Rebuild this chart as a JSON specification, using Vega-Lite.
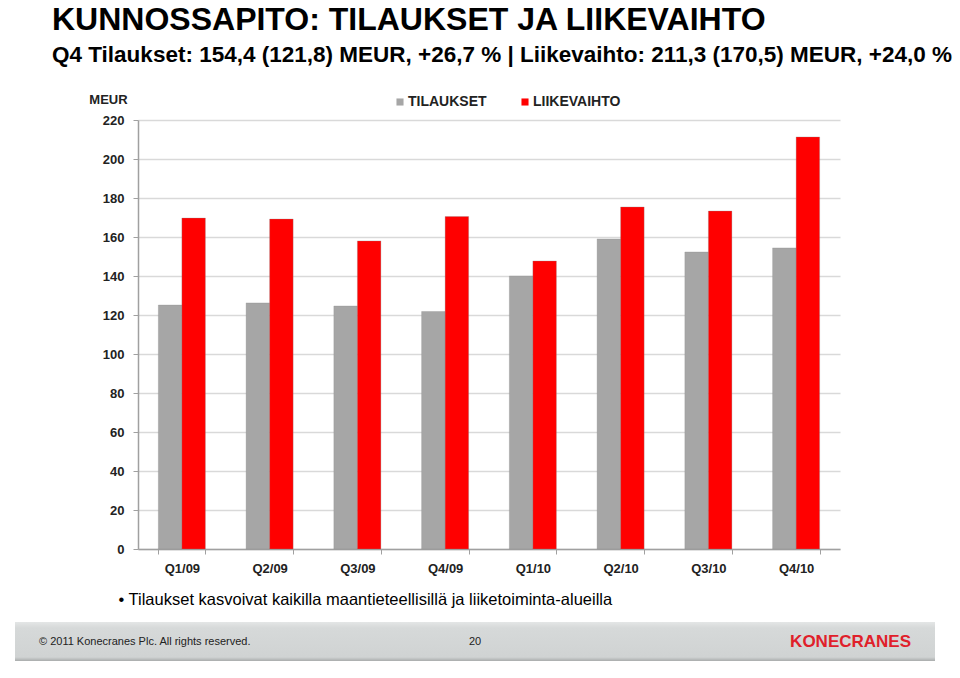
{
  "$schema": "https://vega.github.io/schema/vega-lite/v6.json",
  "padding": {"left": 15, "top": 3, "right": 0, "bottom": 0},
  "background": "white",
  "config": {"view": {"stroke": null}},
  "title": {
    "text": "KUNNOSSAPITO: TILAUKSET JA LIIKEVAIHTO",
    "subtitle": "Q4  Tilaukset: 154,4 (121,8) MEUR, +26,7 % | Liikevaihto: 211,3 (170,5) MEUR, +24,0 %",
    "anchor": "start",
    "frame": "bounds",
    "dx": 37,
    "font": "Liberation Sans",
    "fontSize": 32,
    "fontWeight": "bold",
    "color": "#000000",
    "subtitleFont": "Liberation Sans",
    "subtitleFontSize": 22.5,
    "subtitleFontWeight": "bold",
    "subtitleColor": "#000000",
    "subtitlePadding": 7,
    "offset": 20
  },
  "spacing": 14,
  "vconcat": [
    {
      "spacing": 0,
      "hconcat": [
        {
          "width": 63,
          "height": 10,
          "view": {"fill": "white", "stroke": null},
          "data": {"values": []},
          "mark": "point",
          "encoding": {}
        },
        {
          "width": 702,
          "height": 429,
          "data": {
            "values": [
              {"quarter": "Q1/09", "series": "TILAUKSET", "value": 125.1},
              {"quarter": "Q1/09", "series": "LIIKEVAIHTO", "value": 169.7},
              {"quarter": "Q2/09", "series": "TILAUKSET", "value": 126.2},
              {"quarter": "Q2/09", "series": "LIIKEVAIHTO", "value": 169.2},
              {"quarter": "Q3/09", "series": "TILAUKSET", "value": 124.6},
              {"quarter": "Q3/09", "series": "LIIKEVAIHTO", "value": 158.0},
              {"quarter": "Q4/09", "series": "TILAUKSET", "value": 121.8},
              {"quarter": "Q4/09", "series": "LIIKEVAIHTO", "value": 170.5},
              {"quarter": "Q1/10", "series": "TILAUKSET", "value": 140.0},
              {"quarter": "Q1/10", "series": "LIIKEVAIHTO", "value": 147.7},
              {"quarter": "Q2/10", "series": "TILAUKSET", "value": 159.0},
              {"quarter": "Q2/10", "series": "LIIKEVAIHTO", "value": 175.4},
              {"quarter": "Q3/10", "series": "TILAUKSET", "value": 152.3},
              {"quarter": "Q3/10", "series": "LIIKEVAIHTO", "value": 173.3},
              {"quarter": "Q4/10", "series": "TILAUKSET", "value": 154.4},
              {"quarter": "Q4/10", "series": "LIIKEVAIHTO", "value": 211.3}
            ]
          },
          "mark": {"type": "bar", "stroke": "#8a8a8a", "strokeWidth": 0.5, "strokeOpacity": 0.6},
          "encoding": {
            "x": {
              "field": "quarter",
              "type": "nominal",
              "sort": null,
              "scale": {"paddingInner": 0.464, "paddingOuter": 0.232},
              "axis": {
                "title": "•  Tilaukset kasvoivat kaikilla maantieteellisillä ja liiketoiminta-alueilla",
                "titleFont": "Liberation Sans",
                "titleFontSize": 16.5,
                "titleFontWeight": "normal",
                "titleColor": "#000000",
                "titleAnchor": "start",
                "titleAlign": "left",
                "titleX": -20,
                "titleY": 55,
                "titleBaseline": "alphabetic",
                "labelAngle": 0,
                "labelFont": "Liberation Sans",
                "labelFontSize": 13,
                "labelFontWeight": "bold",
                "labelColor": "#222222",
                "labelPadding": 8,
                "tickBand": "extent",
                "tickSize": 5,
                "tickColor": "#a0a0a0",
                "domainColor": "#a0a0a0",
                "domainWidth": 1.5
              }
            },
            "xOffset": {"field": "series", "type": "nominal", "sort": ["TILAUKSET", "LIIKEVAIHTO"], "scale": {"paddingInner": 0, "paddingOuter": 0}},
            "y": {
              "field": "value",
              "type": "quantitative",
              "scale": {"domain": [0, 220], "nice": false},
              "axis": {
                "values": [0, 20, 40, 60, 80, 100, 120, 140, 160, 180, 200, 220],
                "title": "MEUR",
                "titleAngle": 0,
                "titleAlign": "center",
                "titleX": -30,
                "titleY": -17,
                "titleBaseline": "alphabetic",
                "titleFont": "Liberation Sans",
                "titleFontSize": 13,
                "titleFontWeight": "bold",
                "titleColor": "#222222",
                "labelFont": "Liberation Sans",
                "labelFontSize": 13,
                "labelFontWeight": "bold",
                "labelColor": "#222222",
                "labelPadding": 9,
                "tickSize": 5,
                "tickColor": "#a0a0a0",
                "domainColor": "#a0a0a0",
                "domainWidth": 1.5,
                "gridColor": "#d9d9d9",
                "gridWidth": 1.5,
                "minExtent": 60
              }
            },
            "color": {
              "field": "series",
              "type": "nominal",
              "scale": {"domain": ["TILAUKSET", "LIIKEVAIHTO"], "range": ["#a6a6a6", "#ff0000"]},
              "legend": {
                "title": null,
                "orient": "none",
                "direction": "horizontal",
                "legendX": 370,
                "legendY": -33,
                "symbolType": "square",
                "symbolSize": 50,
                "symbolStrokeWidth": 0,
                "labelFont": "Liberation Sans",
                "labelFontSize": 14,
                "labelFontWeight": "bold",
                "labelColor": "#222222",
                "labelOffset": 1,
                "columnPadding": 31,
                "padding": 8
              }
            }
          }
        }
      ]
    },
    {
      "width": 920,
      "height": 39,
      "data": {
        "values": [
          {"item": "copyright", "label": "© 2011 Konecranes Plc. All rights reserved."},
          {"item": "page", "label": "20"},
          {"item": "logo", "label": "KONECRANES"}
        ]
      },
      "layer": [
        {
          "mark": {
            "type": "rect",
            "color": {
              "gradient": "linear",
              "x1": 0, "y1": 0, "x2": 0, "y2": 1,
              "stops": [
                {"offset": 0, "color": "#e4e6e6"},
                {"offset": 0.15, "color": "#d6d9d9"},
                {"offset": 0.9, "color": "#d0d3d3"},
                {"offset": 1, "color": "#a9acac"}
              ]
            }
          },
          "encoding": {}
        },
        {
          "transform": [{"filter": "datum.item === 'copyright'"}],
          "mark": {"type": "text", "align": "left", "font": "Liberation Sans", "fontSize": 11, "color": "#222222"},
          "encoding": {
            "x": {"field": "item", "type": "nominal", "sort": ["copyright", "page", "logo"], "scale": {"type": "point", "domain": ["copyright", "page", "logo"], "padding": 0.055}, "axis": null},
            "text": {"field": "label"}
          }
        },
        {
          "transform": [{"filter": "datum.item === 'page'"}],
          "mark": {"type": "text", "align": "center", "font": "Liberation Sans", "fontSize": 11, "color": "#222222"},
          "encoding": {
            "x": {"field": "item", "type": "nominal", "axis": null},
            "text": {"field": "label"}
          }
        },
        {
          "transform": [{"filter": "datum.item === 'logo'"}],
          "mark": {"type": "text", "align": "right", "font": "Liberation Sans", "fontSize": 17, "fontWeight": "bold", "color": "#e0202a"},
          "encoding": {
            "x": {"field": "item", "type": "nominal", "axis": null},
            "text": {"field": "label"}
          }
        }
      ]
    }
  ]
}
